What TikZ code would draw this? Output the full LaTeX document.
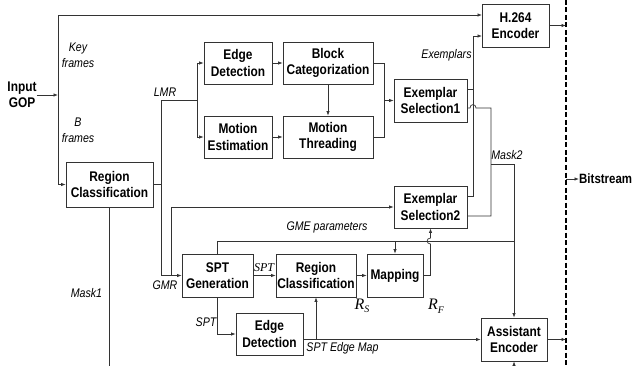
\documentclass[tikz,border=0pt]{standalone}
\usepackage{fontspec}
\setmainfont[FakeStretch=0.85]{Liberation Sans}
\newfontfamily\serifit{Liberation Serif}
\usetikzlibrary{arrows.meta,calc}
\tikzset{
  conn/.style={draw=black!80, line width=0.7pt},
  arr/.style={conn, -{Latex[length=4.5pt,width=3.4pt]}},
  box/.style={draw=black!80, line width=0.8pt, inner sep=0pt, align=center,
    font=\bfseries\fontsize{14}{16.5}\selectfont},
  lab/.style={inner sep=0pt, align=center, font=\itshape\fontsize{12.5}{16}\selectfont},
  rlab/.style={inner sep=0pt, font=\serifit\itshape\fontsize{16}{16}\selectfont},
  boundary/.style={draw=black, line width=1.4pt, dash pattern=on 5pt off 2.5pt}
}
\begin{document}
\begin{tikzpicture}[x=1pt,y=-1pt]
\path[use as bounding box, fill=white] (0,0) rectangle (636,366);

% boxes
\node[box, minimum width=67pt, minimum height=43pt] (h264) at (515.5,25.5) {H.264\\Encoder};
\node[box, minimum width=87pt, minimum height=45pt] (rc1) at (109.5,184.5) {Region\\Classification};
\node[box, minimum width=68pt, minimum height=42pt] (ed1) at (238,63) {Edge\\Detection};
\node[box, minimum width=90pt, minimum height=42pt] (bc) at (328,63) {Block\\Categorization};
\node[box, minimum width=68pt, minimum height=42pt] (me) at (238,137) {Motion\\Estimation};
\node[box, minimum width=90pt, minimum height=42pt] (mt) at (328,137) {Motion\\Threading};
\node[box, minimum width=73pt, minimum height=43pt] (es1) at (430.5,100.5) {Exemplar\\Selection1};
\node[box, minimum width=73pt, minimum height=42pt] (es2) at (430.5,207) {Exemplar\\Selection2};
\node[box, minimum width=71pt, minimum height=43pt] (spt) at (217.5,275.5) {SPT\\Generation};
\node[box, minimum width=80pt, minimum height=43pt] (rc2) at (316,275.5) {Region\\Classification};
\node[box, minimum width=56pt, minimum height=43pt] (map) at (395,275.5) {Mapping};
\node[box, minimum width=67pt, minimum height=42pt] (ed2) at (269.5,334) {Edge\\Detection};
\node[box, minimum width=66pt, minimum height=43pt] (ae) at (514,339.5) {Assistant\\Encoder};
\node[box, draw=none, inner sep=0pt] (gop) at (22,95) {Input\\GOP};
\node[inner sep=0pt, anchor=west, font=\bfseries\fontsize{13.5}{15}\selectfont] (bst) at (579,179) {Bitstream};

% coordinates
\coordinate (split) at (58,95);
\coordinate (kin) at (482,15);
\coordinate (lmrc) at (161,100);
\coordinate (fork) at (197,100);
\coordinate (gmrc) at (161,275.5);
\coordinate (gmrb) at (171,275.5);
\coordinate (merge) at (384,100.5);
\coordinate (e1a) at (467,89);
\coordinate (e2a) at (467,196);
\coordinate (ex) at (473,36);
\coordinate (hin) at (482,36);
\coordinate (e1b) at (467,108);
\coordinate (m1) at (491,108);
\coordinate (e2b) at (467,216);
\coordinate (mk) at (491,164);
\coordinate (gme) at (217.5,241);
\coordinate (gmeend) at (514,241);
\coordinate (mv) at (430.5,275.5);
\coordinate (emap) at (303,339.5);
\coordinate (emj) at (316,339.5);
\coordinate (m1end) at (109.5,366);
\coordinate (aeb) at (514,366);
\coordinate (dtop) at (566,0);
\coordinate (dbot) at (566,366);
\coordinate (bs) at (566,179);

% connectors
\draw[arr] (gop.east) -- (split);
\draw[arr] (split) |- (kin);
\draw[arr] (split) |- (rc1.west);
\draw[conn] (rc1.east) -| (lmrc) -- (fork);
\draw[arr] (fork) |- (ed1.west);
\draw[arr] (fork) |- (me.west);
\draw[arr] (rc1.east) -| (gmrc) -- (spt.west);
\draw[arr] (gmrb) |- (es2.west);
\draw[arr] (ed1) -- (bc);
\draw[arr] (me) -- (mt);
\draw[arr] (bc) -- (mt);
\draw[conn] (bc.east) -| (merge);
\draw[conn] (mt.east) -| (merge);
\draw[arr] (merge) -- (es1.west);
\draw[arr] (e1a) -| (ex) -- (hin);
\draw[conn] (e2a) -| (ex);
\draw[conn] (e1b) -- ++(3,0) .. controls +(0,-4.5) and +(0,-4.5) .. ++(6,0) -- (m1) |- (e2b);
\draw[arr] (mk) -| (ae.north);
\draw[conn] (spt.north) -- (gme) -- (gmeend);
\draw[arr] (map.north |- gme) -- (map.north);
\draw[arr] (spt) -- (rc2);
\draw[arr] (rc2) -- (map);
\draw[arr] (map.east) -- (mv) -- ++(0,-31.5) .. controls +(-4.5,0) and +(-4.5,0) .. ++(0,-6) -- (es2.south);
\draw[arr] (spt.south) |- (ed2.west);
\draw[arr] (emap) -- (ae.west);
\draw[arr] (emj) -- (rc2.south);
\draw[conn] (rc1.south) -- (m1end);
\draw[arr] (aeb) -- (ae.south);
\draw[boundary] (dtop) -- (dbot);
\draw[arr] (h264.east) -- (h264.east -| dtop);
\draw[arr] (ae.east) -- (ae.east -| dtop);
\draw[arr] (bs) -- (bst.west);

% labels
\node[lab] (lkey) at (78,55) {Key\\frames};
\node[lab] (lb) at (78,130) {B\\frames};
\node[lab] (llmr) at (165,92) {LMR};
\node[lab] (lgmr) at (165,285) {GMR};
\node[lab] (lmask1) at (86.5,293) {Mask1};
\node[lab] (lexem) at (446.5,55) {Exemplars};
\node[lab] (lmask2) at (507,155) {Mask2};
\node[lab] (lgme) at (327,227.5) {GME parameters};
\node[lab] (lspt2) at (206,322) {SPT};
\node[inner sep=0pt, font=\serifit\itshape\fontsize{12}{14}\selectfont] (lspt1) at (264,268) {SPT};
\node[lab] (lemap) at (342.5,348.5) {SPT Edge Map};
\node[rlab] (lrs) at (362,306) {R\raisebox{-3.5pt}{\fontsize{10}{10}\selectfont S}};
\node[rlab] (lrf) at (436,306.5) {R\raisebox{-3.5pt}{\fontsize{10}{10}\selectfont F}};
\end{tikzpicture}
\end{document}
